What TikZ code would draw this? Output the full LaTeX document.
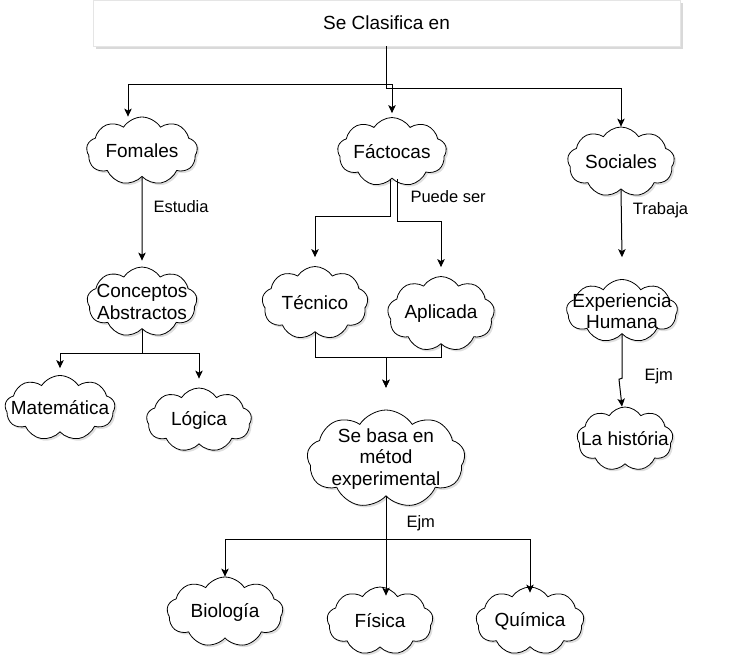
\documentclass[tikz,border=0pt]{standalone}
\usepackage{fontspec}
\setmainfont{Liberation Sans}
\usetikzlibrary{shapes.symbols,shadows,arrows.meta}
\newcommand\cloudfont{\fontsize{19}{21.5}\selectfont}
\newcommand\edgefont{\fontsize{16.5}{19}\selectfont}
\tikzset{
  nube/.style={cloud, cloud puffs=9, cloud puff arc=115, cloud ignores aspect,
    draw, fill=white, line width=0.8pt, inner sep=0pt,
    drop shadow={opacity=0.25, shadow xshift=2pt, shadow yshift=-2pt}},
  every label/.style={font=\cloudfont, align=center, inner sep=0pt},
  titulo/.style={fill=white, draw=black!10, font=\cloudfont,
    drop shadow={opacity=0.3, shadow xshift=3pt, shadow yshift=-3pt}},
  flecha/.style={-{Stealth[length=8pt,width=7.5pt,inset=2pt]}, line width=1pt},
  etiq/.style={font=\edgefont, inner sep=0pt}
}
\begin{document}
\begin{tikzpicture}[x=1pt,y=-1pt]
\useasboundingbox (0,0) rectangle (732,672);
\node[titulo, minimum width=587, minimum height=46] (top) at (386.5,23) {Se Clasifica en};

\node[nube, minimum width=111, minimum height=68, label={center:Fomales}] (fom) at (142,151) {};
\node[nube, minimum width=109, minimum height=69, label={center:Fáctocas}] (fac) at (392,152) {};
\node[nube, minimum width=107, minimum height=70, label={center:Sociales}] (soc) at (621,162) {};

\node[nube, minimum width=110, minimum height=70, label={center:Conceptos\\Abstractos}] (con) at (142,302) {};
\node[nube, minimum width=106, minimum height=73, label={center:Técnico}] (tec) at (315,303) {};
\node[nube, minimum width=107, minimum height=75, label={center:Aplicada}] (apl) at (441,314) {};
\node[nube, minimum width=111, minimum height=63, label={center:Experiencia\\Humana}] (exp) at (622,311) {};

\node[nube, minimum width=110, minimum height=65, label={center:Matemática}] (mat) at (60,408) {};
\node[nube, minimum width=105, minimum height=64, label={center:Lógica}] (log) at (199,420) {};
\node[nube, minimum width=158, minimum height=98, label={center:Se basa en\\métod\\experimental}] (sbe) at (386,459) {};
\node[nube, minimum width=96, minimum height=64, label={center:La história}] (his) at (625,439) {};

\node[nube, minimum width=116, minimum height=70, label={center:Biología}] (bio) at (225,612) {};
\node[nube, minimum width=106, minimum height=68, label={center:Física}] (fis) at (380,621) {};
\node[nube, minimum width=108, minimum height=68, label={center:Química}] (qui) at (530,621) {};

\draw[flecha] (top.south) -- ++(0,38) -| ([xshift=-14pt]fom.north);
\draw[flecha] (top.south) -- ++(0,38) -| ([yshift=4pt]fac.north);
\draw[flecha] (top.south) -- ++(0,42) -| (soc.north);

\draw[flecha] (fom.south) -- node[etiq, pos=0.35, right=11pt] {Estudia} ([yshift=6pt]con.north);
\draw[flecha] (con.south) -- ++(0,24) -| ([yshift=7pt]mat.north);
\draw[flecha] (con.south) -- ++(0,24) -| ([yshift=9pt]log.north);

\draw[flecha] ([xshift=-2pt]fac.south) -- ++(0,38) -| ([yshift=9pt]tec.north);
\draw[flecha] ([xshift=5pt]fac.south) -- ++(0,43) node[etiq, pos=0.42, right=13pt] {Puede ser} -| ([yshift=9pt]apl.north);
\draw[flecha] (tec.south) -- ++(0,25) -| ([yshift=22pt]sbe.north);
\draw[flecha] (apl.south) -- ++(0,13) -| ([yshift=22pt]sbe.north);

\draw[flecha] (sbe.south) -- ++(0,43) -| (bio.north);
\draw[flecha] (sbe.south) -- node[etiq, pos=0.27, right=20pt] {Ejm} ([yshift=-9pt]sbe.south |- fis.north);
\draw[flecha] (sbe.south) -- ++(0,43) -| ([yshift=-6pt]qui.north);

\draw[flecha] (soc.south) -- node[etiq, pos=0.3, right=11pt] {Trabaja} ([yshift=22pt]exp.north);
\draw[flecha] (exp.south) -- ++(0,44) node[etiq, pos=0.95, right=22pt] {Ejm} -- ++(-3,1) -- ([xshift=-3pt]his.north);
\end{tikzpicture}
\end{document}
